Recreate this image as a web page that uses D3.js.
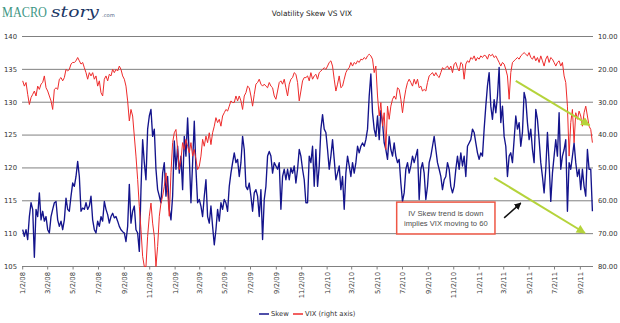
<!DOCTYPE html>
<html>
<head>
<meta charset="utf-8">
<script src="https://cdn.jsdelivr.net/npm/d3@7"></script>
<style>
  html, body { margin: 0; padding: 0; background: #fff; }
  svg { display: block; }
  .axis-label { font-family: "DejaVu Sans", Verdana, sans-serif; font-size: 6.8px; fill: #333; }
  .title { font-family: "DejaVu Sans", Verdana, sans-serif; font-size: 7.4px; fill: #222; }
  .note { font-family: "Liberation Sans", Arial, sans-serif; font-size: 7.6px; fill: #4d4d4d; }
</style>
</head>
<body>
<svg id="chart" width="620" height="323"></svg>
<script>
// readings every 4 days from 2 Jan 2008
const firstDay = new Date(2008, 0, 2);
const lastDay = new Date(2011, 8, 30);
const stepDays = 4;

const skew = [
  // 2008
  110.6, 109.6, 110.6, 109.1, 112.6, 114.7, 113.7, 106.4, 113.7, 112.6,
  116.2, 112.1, 113.4, 111.9, 112.6, 110.6, 110.1, 112.6, 113.7, 114.7,
  114.9, 112.1, 111.1, 111.9, 110.6, 112.1, 115.4, 113.7, 113.4, 115.7,
  117.7, 117.2, 118.7, 121.0, 118.7, 113.4, 113.9, 113.7, 114.7, 113.7,
  114.2, 115.7, 112.1, 110.6, 110.1, 111.9, 111.1, 112.6, 111.9, 114.9,
  113.7, 112.9, 111.6, 112.6, 113.1, 112.4, 112.6, 111.9, 111.1, 110.6,
  110.3, 110.1, 108.8, 111.1, 117.5, 111.6, 113.4, 114.2, 110.6, 110.1,
  107.3, 116.7, 124.3, 120.8, 118.2, 125.9, 127.9, 128.9, 124.8, 125.9,
  119.8, 116.7, 115.7, 114.7, 119.2,
  // 2009
  120.8, 115.7, 118.7, 113.7, 112.1, 115.7, 124.1, 119.8, 123.3, 119.2,
  121.8, 116.7, 124.8, 121.8, 127.6, 121.8, 114.7, 120.8, 127.1, 119.8,
  114.7, 115.2, 114.2, 112.6, 115.7, 118.2, 112.6, 111.6, 114.2, 111.1,
  108.3, 110.6, 113.7, 111.9, 114.7, 113.7, 115.2, 114.7, 113.4, 117.2,
  119.2, 120.8, 122.3, 120.8, 121.3, 118.7, 120.8, 124.8, 122.8, 117.2,
  116.7, 117.7, 115.7, 113.4, 116.2, 116.7, 115.7, 112.6, 116.7, 109.1,
  115.2, 117.2, 121.8, 122.5, 121.8, 119.2, 120.8, 120.3, 119.8, 120.8,
  113.7, 118.7, 119.8, 118.2, 119.8, 118.2, 120.0, 119.2, 120.3, 117.7,
  119.8, 122.8, 121.8, 119.8, 118.2, 114.7,
  // 2010
  114.7, 121.8, 120.8, 123.3, 117.2, 122.8, 117.2, 120.3, 125.9, 128.1,
  125.9, 125.4, 122.8, 119.8, 121.8, 124.3, 121.3, 118.2, 119.2, 120.3,
  116.7, 118.7, 113.7, 119.2, 121.8, 120.3, 118.7, 120.8, 119.2, 120.8,
  123.3, 122.3, 123.3, 123.8, 123.3, 124.3, 125.9, 130.9, 134.3, 128.4,
  125.9, 124.8, 127.9, 124.3, 128.7, 126.9, 123.8, 122.8, 121.3, 124.8,
  122.8, 121.8, 123.8, 121.8, 120.8, 121.3, 117.7, 114.9, 116.2, 119.8,
  120.8, 119.2, 120.3, 121.8, 120.8, 121.8, 122.8, 115.2, 119.8, 120.8,
  119.2, 115.2, 117.2, 120.8, 121.8, 123.3, 124.8, 122.8, 120.8, 119.8,
  118.7, 116.7, 118.2, 118.7, 120.8, 119.8,
  // 2011
  117.2, 116.2, 117.2, 119.8, 121.8, 119.8, 122.3, 120.3, 121.8, 118.7,
  123.3, 123.8, 124.3, 125.9, 125.4, 123.8, 122.3, 121.3, 122.3, 121.8,
  125.9, 129.4, 132.5, 134.5, 129.4, 127.4, 130.4, 128.4, 130.9, 135.3,
  126.9, 129.4, 124.8, 123.3, 118.7, 121.8, 122.3, 120.8, 124.3, 127.9,
  125.9, 126.9, 123.3, 125.4, 131.5, 130.4, 126.9, 124.3, 125.9, 122.8,
  120.8, 128.9, 127.4, 124.3, 120.8, 118.7, 116.2, 119.8, 125.4, 120.8,
  114.9, 119.2, 121.8, 124.3, 121.8, 128.4, 119.8, 121.8, 122.8, 124.3,
  113.4, 120.8, 119.8, 121.8, 123.8, 120.8, 118.7, 119.8, 116.7, 119.8,
  117.2, 115.7, 122.8, 119.8, 119.8, 113.4
];

const vix = [
  // 2008
  23.5, 25.1, 24.0, 27.6, 30.7, 28.6, 27.6, 26.6, 28.1, 25.1,
  26.1, 24.5, 24.0, 22.0, 25.6, 26.6, 28.1, 29.6, 32.2, 26.1,
  25.6, 26.1, 23.0, 22.5, 23.5, 22.5, 20.0, 20.5, 20.0, 18.4,
  17.9, 17.9, 17.4, 16.4, 17.4, 18.4, 17.9, 19.5, 21.0, 23.0,
  21.0, 22.0, 21.0, 23.0, 22.0, 25.1, 23.5, 27.1, 28.1, 23.0,
  22.0, 23.5, 21.5, 22.0, 20.0, 21.0, 20.0, 20.5, 19.0, 20.0,
  22.0, 23.0, 25.1, 29.6, 35.7, 32.2, 34.2, 40.3, 46.4, 53.5,
  61.7, 68.8, 76.9, 80, 80, 70.8, 64.7, 60.7, 66.8, 70.8,
  80, 73.9, 64.7, 60.7, 58.6,
  // 2009
  55.6, 51.5, 57.6, 64.7, 51.5, 42.3, 39.3, 38.3, 44.4, 50.5,
  47.4, 42.3, 44.4, 41.3, 43.4, 45.4, 42.3, 46.4, 44.4, 47.4,
  50.5, 49.5, 46.4, 41.3, 43.4, 40.3, 42.3, 39.3, 42.9, 39.3,
  37.3, 34.7, 36.2, 35.2, 37.3, 34.2, 33.2, 32.2, 32.7, 31.2,
  29.6, 30.1, 30.1, 28.1, 29.6, 28.1, 29.6, 32.2, 28.1, 27.1,
  25.1, 25.6, 28.1, 31.2, 27.6, 24.5, 24.0, 23.0, 24.5, 25.1,
  24.5, 25.1, 25.6, 24.0, 25.1, 25.6, 28.1, 29.1, 26.6, 24.0,
  23.5, 24.5, 23.0, 25.6, 28.1, 24.5, 23.0, 22.5, 21.0, 21.5,
  24.0, 29.6, 26.6, 23.5, 22.5, 22.5,
  // 2010
  22.0, 23.5, 21.0, 23.0, 22.0, 21.5, 23.0, 21.0, 20.5, 20.0,
  19.5, 20.0, 19.0, 17.9, 17.4, 19.0, 23.0, 26.6, 24.5, 22.0,
  25.6, 25.1, 23.0, 21.0, 20.0, 19.5, 17.9, 19.0, 17.9, 18.4,
  17.4, 17.9, 16.9, 17.1, 16.4, 16.9, 15.9, 15.4, 15.9, 16.9,
  21.0, 19.0, 28.1, 34.2, 30.1, 37.3, 33.2, 44.4, 31.2, 35.2,
  31.2, 29.1, 28.1, 29.1, 25.6, 26.1, 29.1, 33.2, 29.1, 26.1,
  24.0, 23.0, 24.0, 25.1, 23.0, 24.5, 23.0, 25.6, 25.1, 26.6,
  26.1, 26.6, 24.0, 22.0, 21.5, 21.0, 22.0, 21.0, 22.0, 22.5,
  21.0, 19.5, 20.0, 19.5, 19.0, 20.0,
  // 2011
  19.0, 21.0, 18.4, 17.9, 19.5, 20.5, 17.9, 18.4, 23.0, 18.4,
  17.4, 17.9, 16.4, 16.9, 15.9, 17.4, 16.4, 16.9, 15.9, 16.4,
  15.7, 15.9, 16.9, 15.4, 15.9, 15.4, 16.4, 15.9, 16.9, 17.9,
  19.0, 17.9, 18.4, 20.0, 22.0, 29.1, 21.0, 17.9, 17.4, 16.9,
  16.4, 16.9, 15.9, 15.4, 14.9, 15.4, 15.9, 14.9, 16.4, 16.9,
  15.9, 17.4, 16.4, 17.9, 15.9, 17.4, 19.0, 16.9, 15.9, 17.9,
  16.4, 16.9, 17.9, 19.0, 17.9, 17.4, 19.0, 17.9, 22.0, 24.0,
  31.2, 46.4, 36.2, 32.2, 42.3, 33.2, 35.2, 32.7, 34.2, 37.3,
  33.2, 31.2, 34.2, 37.3, 38.3, 42.3
];

const skewTicks = [105, 110, 115, 120, 125, 130, 135, 140];
const vixTicks = [10, 20, 30, 40, 50, 60, 70, 80];
const seriesNames = ['Skew', 'VIX (right axis)'];
const seriesColors = ['#14148c', '#ee2b2b'];
const noteLines = ['IV Skew trend is down', 'implies VIX moving to 60'];

const days = skew.map((_, i) => d3.timeDay.offset(firstDay, stepDays * i));
const dateTicks = d3.timeMonth.every(2).range(new Date(2008, 0, 1), lastDay)
  .map(d => new Date(d.getFullYear(), d.getMonth(), 2));

const svg = d3.select('#chart');
const fmt = d3.timeFormat('%-m/%-d/%y');

const x = d3.scaleTime().domain([firstDay, lastDay]).range([22.7, 592]);
const yL = d3.scaleLinear().domain([105, 140]).range([266.5, 36.5]);
const yR = d3.scaleLinear().domain([10, 80]).range([36.5, 266.5]);

// logo: each word squeezed/stretched to its slot width
function logoWord(text, left, width, family, size, color, italic) {
  const g = svg.append('g');
  const t = g.append('text').attr('x', 0).attr('y', 0)
    .style('font-family', family).style('font-size', size + 'px')
    .style('font-style', italic ? 'italic' : 'normal')
    .style('fill', color).text(text);
  const sx = width / t.node().getComputedTextLength();
  g.attr('transform', `translate(${left},16.8) scale(${sx},1)`);
}
logoWord('MACRO', 2, 45, '"Liberation Serif", "Times New Roman", serif', 15.5, '#3d9684', false);
logoWord('story', 51, 48, '"DejaVu Serif", serif', 14, '#1c3766', true);
svg.append('text').attr('x', 102).attr('y', 16.8)
  .style('font-family', '"DejaVu Sans", sans-serif')
  .style('font-size', '5.2px').style('fill', '#4d6384').text('.com');

svg.append('text').attr('class', 'title')
  .attr('x', 312).attr('y', 16).attr('text-anchor', 'middle')
  .text('Volatility Skew VS VIX');

// gridlines (both axes share the same rows)
svg.append('g').selectAll('line').data(skewTicks).join('line')
  .attr('x1', 22).attr('x2', 593)
  .attr('y1', d => yL(d)).attr('y2', d => yL(d))
  .attr('stroke', '#808080').attr('stroke-width', 1);

// left axis labels
svg.append('g').selectAll('text').data(skewTicks).join('text')
  .attr('class', 'axis-label').attr('text-anchor', 'end')
  .attr('x', 17).attr('y', d => yL(d) + 2.4).text(d => d);

// right axis labels
svg.append('g').selectAll('text').data(vixTicks).join('text')
  .attr('class', 'axis-label')
  .attr('x', 598).attr('y', d => yR(d) + 2.4).text(d => d.toFixed(2));

// bottom date axis
const xTicks = svg.append('g');
xTicks.selectAll('line').data(dateTicks).join('line')
  .attr('x1', d => x(d)).attr('x2', d => x(d))
  .attr('y1', 266.5).attr('y2', 269.5)
  .attr('stroke', '#808080');
xTicks.selectAll('text').data(dateTicks).join('text')
  .attr('class', 'axis-label').attr('text-anchor', 'end')
  .attr('transform', d => `translate(${x(d) + 2.4},272) rotate(-90)`)
  .text(d => fmt(d));

// series
const plot = svg.append('g');
const skewLine = d3.line().x((d, i) => x(days[i])).y(d => yL(d));
const vixLine = d3.line().x((d, i) => x(days[i])).y(d => yR(Math.min(d, 80)));

plot.append('path').datum(skew).attr('d', skewLine)
  .attr('fill', 'none').attr('stroke', seriesColors[0]).attr('stroke-width', 1.35)
  .attr('stroke-linejoin', 'round');
plot.append('path').datum(vix).attr('d', vixLine)
  .attr('fill', 'none').attr('stroke', seriesColors[1]).attr('stroke-width', 1)
  .attr('stroke-linejoin', 'round');

// arrows
const defs = svg.append('defs');
function marker(id, color, w, h) {
  defs.append('marker').attr('id', id)
    .attr('viewBox', '0 0 10 10').attr('refX', 9).attr('refY', 5)
    .attr('markerUnits', 'userSpaceOnUse')
    .attr('markerWidth', w).attr('markerHeight', h).attr('orient', 'auto')
    .append('path').attr('d', 'M0,0L10,5L0,10Z').attr('fill', color);
}
marker('head-green', '#b5d33b', 10, 9);
marker('head-black', '#111', 7, 7);

const arrows = [
  { from: [new Date(2011, 2, 31), 23.5], to: [new Date(2011, 8, 24), 37], color: '#b5d33b', w: 2, head: 'head-green' },
  { from: [new Date(2011, 1, 7), 53], to: [new Date(2011, 8, 13), 69.8], color: '#b5d33b', w: 2, head: 'head-green' },
  { from: [new Date(2011, 2, 3), 65.2], to: [new Date(2011, 3, 12), 60.7], color: '#111', w: 1.5, head: 'head-black' }
];
svg.append('g').selectAll('line').data(arrows).join('line')
  .attr('x1', d => x(d.from[0])).attr('y1', d => yR(d.from[1]))
  .attr('x2', d => x(d.to[0])).attr('y2', d => yR(d.to[1]))
  .attr('stroke', d => d.color).attr('stroke-width', d => d.w)
  .attr('marker-end', d => `url(#${d.head})`);

// note box
const boxL = x(new Date(2010, 5, 18)), boxR = x(new Date(2011, 1, 9));
const boxT = yR(60.4), boxB = yR(70.1);
const note = svg.append('g');
note.append('rect').attr('x', boxL).attr('y', boxT)
  .attr('width', boxR - boxL).attr('height', boxB - boxT)
  .attr('fill', '#fff').attr('stroke', '#ee5745').attr('stroke-width', 1.5);
note.selectAll('text').data(noteLines).join('text')
  .attr('class', 'note').attr('text-anchor', 'middle')
  .attr('x', (boxL + boxR) / 2).attr('y', (d, i) => boxT + 13.5 + i * 10)
  .text(d => d);

// legend
const legend = svg.append('g').attr('transform', 'translate(259,314)');
const items = legend.selectAll('g').data(seriesNames).join('g')
  .attr('transform', (d, i) => `translate(${i * 34},0)`);
items.append('line').attr('x1', 0).attr('x2', 10).attr('y1', 0).attr('y2', 0)
  .attr('stroke', (d, i) => seriesColors[i]).attr('stroke-width', 1.5);
items.append('text').attr('class', 'axis-label').attr('x', 12).attr('y', 2.4).text(d => d);
</script>
</body>
</html>
